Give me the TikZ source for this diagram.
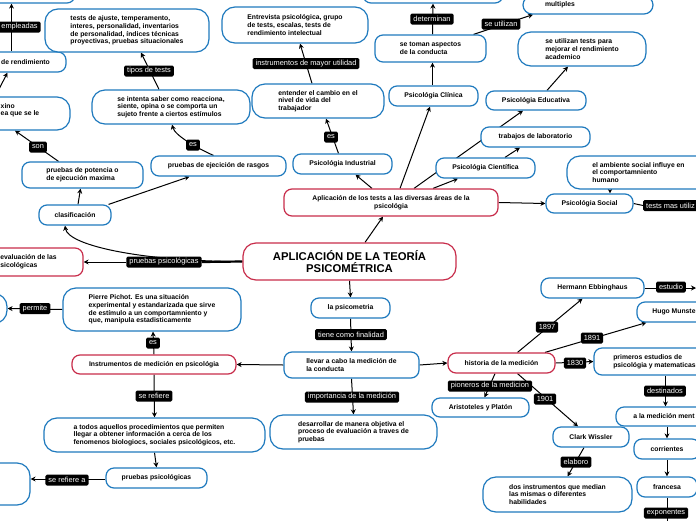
\documentclass[tikz,border=0pt]{standalone}
\usepackage{fontspec}
\setmainfont{Liberation Sans}
\usetikzlibrary{arrows.meta}
\definecolor{blueb}{RGB}{31,122,190}
\definecolor{redb}{RGB}{200,45,75}
\pgfdeclarelayer{bg}
\pgfsetlayers{bg,main}
\tikzset{
 bbox/.style={draw=blueb, line width=1.2pt, rounded corners=8pt, fill=white, align=left, inner sep=0pt, font=\fontsize{6.8}{7.7}\selectfont\bfseries, text=black},
 rbox/.style={bbox, draw=redb},
 tall/.style={rounded corners=13pt},
 sz/.style 2 args={minimum width=#1pt, minimum height=#2pt},
 lbl/.style={fill=black, text=white, font=\fontsize{7.4}{8}\selectfont, inner xsep=3pt, inner ysep=0pt, minimum height=11pt, rounded corners=1.5pt},
 arr/.style={line width=1pt, -{Stealth[length=5pt,width=5pt]}},
 ln/.style={line width=1pt},
}
\begin{document}
\begin{tikzpicture}[x=1pt,y=-1pt]
\useasboundingbox (0,0) rectangle (696,520);
\clip (0,0) rectangle (696,520);

% nodes
\node[bbox, sz={135}{23}] (n_tl) at (7.5,-8.5) {};
\node[bbox, sz={81}{20}] (n_rend) at (25.5,62) {de rendimiento};
\node[bbox, tall, sz={100}{33}] (n_max) at (20,113.5) {xino\\ea que se le\\\mbox{}};
\node[bbox, sz={121}{26}] (n_pot) at (82.5,175) {pruebas de potencia o\\de ejecución maxima};
\node[bbox, sz={72}{20}] (n_cla) at (75,215) {clasificación};
\node[bbox, sz={135}{20}] (n_eje) at (218.5,166) {pruebas de ejecición de rasgos};
\node[bbox, tall, sz={158}{34}] (n_sab) at (171,107) {se intenta saber como reacciona,\\siente, opina o se comporta un\\sujeto frente a ciertos estímulos};
\node[bbox, tall, sz={164}{43}] (n_tip) at (127,30.5) {tests de ajuste, temperamento,\\interes, personalidad, inventarios\\de personalidad, índices técnicas\\proyectivas, pruebas situacionales};
\node[bbox, tall, sz={146}{36}] (n_ent) at (295,25) {Entrevista psicológica, grupo\\de tests, escalas, tests de\\rendimiento intelectual};
\node[bbox, tall, sz={132}{34}] (n_cam) at (318,101) {entender el cambio en el\\nivel de vida del\\trabajador};
\node[bbox, sz={99}{20}] (n_ind) at (342.5,164) {Psicológia Industrial};
\node[bbox, sz={89}{20}] (n_cli) at (433.5,96) {Psicológia Clínica};
\node[bbox, sz={111}{27}] (n_tom) at (430.5,48.5) {se toman aspectos\\de la conducta};
\node[bbox, sz={140}{23}] (n_top) at (433,-8.5) {};
\node[bbox, rounded corners=9pt, sz={130}{18}, text width=86pt] (n_mul) at (588,5) {multiples};
\node[bbox, tall, sz={128}{34}] (n_acad) at (582,49) {se utilizan tests para\\mejorar el rendimiento\\academico};
\node[bbox, sz={100}{19}] (n_edu) at (536,100.5) {Psicológia Educativa};
\node[bbox, sz={109}{20}] (n_lab) at (535.5,137) {trabajos de laboratorio};
\node[bbox, sz={99}{20}] (n_cie) at (485.5,168) {Psicológia Científica};
\node[rbox, sz={214}{27}, align=center] (n_apl) at (391,202.5) {Aplicación de los tests a las diversas áreas de la\\psicológia};
\node[bbox, sz={87}{19}] (n_soc) at (589.5,203.5) {Psicológia Social};
\node[bbox, tall, sz={143}{33}] (n_amb) at (638.5,172.5) {el ambiente social influye en\\el comportamniento\\humano};
\node[rbox, tall, sz={213}{37}, align=center, font=\fontsize{11.3}{12}\selectfont\bfseries] (n_main) at (349.5,261.5) {APLICACIÓN DE LA TEORÍA\\PSICOMÉTRICA};
\node[rbox, sz={109}{28}] (n_eva) at (28.5,262) {evaluación de las\\sicológicas};
\node[bbox, tall, sz={178}{43}] (n_pie) at (152,309.5) {Pierre Pichot. Es una situación\\experimental y estandarizada que sirve\\de estímulo a un comportamniento y\\que, manipula estadisticamente};
\node[bbox, tall, sz={67}{30}] (n_pl) at (-26.5,308.5) {};
\node[rbox, sz={164}{19}] (n_ins) at (154,364.5) {Instrumentos de medición en psicológia};
\node[bbox, tall, sz={221}{34}] (n_tod) at (154.5,435) {a todos aquellos procedimientos que permiten\\llegar a obtener información a cerca de los\\fenomenos biologiocs, sociales psicológicos, etc.};
\node[bbox, sz={101}{20}] (n_pps) at (156.5,478) {pruebas psicológicas};
\node[bbox, tall, sz={90}{42}] (n_sra) at (-15,484) {};
\node[bbox, sz={79}{20}] (n_psi) at (350.5,308) {la psicometria};
\node[bbox, sz={135}{26}] (n_lle) at (351.5,365) {llevar a cabo la medición de\\la conducta};
\node[bbox, tall, sz={167}{34}] (n_des) at (353.5,432) {desarrollar de manera objetiva el\\proceso de evaluación a traves de\\pruebas};
\node[rbox, sz={107}{20}] (n_his) at (501.5,363) {historia de la medición};
\node[bbox, sz={121}{27}] (n_pri) at (654.5,361.5) {primeros estudios de\\psicológia y matematicas};
\node[bbox, sz={96}{19}] (n_men) at (664,416.5) {a la medición ment};
\node[bbox, sz={66}{20}] (n_cor) at (667,449) {corrientes};
\node[bbox, sz={60}{20}] (n_fra) at (667,487) {francesa};
\node[bbox, sz={97}{19}] (n_ari) at (480.5,407.5) {Aristoteles y Platón};
\node[bbox, sz={76}{20}] (n_cla2) at (591,437) {Clark Wissler};
\node[bbox, tall, sz={149}{35}] (n_dos) at (557.5,494.5) {dos instrumentos que median\\las mismas o diferentes\\habilidades};
\node[bbox, sz={103}{20}] (n_her) at (592.5,288) {Hermann Ebbinghaus};
\node[bbox, sz={74}{20}] (n_hug) at (674,312) {Hugo Munste};

% labels
\node[lbl] (l_emp) at (19.5,27) {empleadas};
\node[lbl] (l_son) at (38,147) {son};
\node[lbl] (l_tip) at (149,71) {tipos de tests};
\node[lbl] (l_es1) at (193,145) {es};
\node[lbl] (l_ins) at (306,63.5) {instrumentos de mayor utilidad};
\node[lbl] (l_es2) at (331,137) {es};
\node[lbl] (l_det) at (432,19) {determinan};
\node[lbl] (l_utl) at (501,24) {se utilizan};
\node[lbl] (l_pps) at (164,262) {pruebas psicológicas};
\node[lbl] (l_per) at (35,308.5) {permite};
\node[lbl] (l_es3) at (153,343) {es};
\node[lbl] (l_ser) at (154,396) {se refiere};
\node[lbl] (l_sra) at (67,480) {se refiere a};
\node[lbl] (l_tcf) at (351,334.5) {tiene como finalidad};
\node[lbl] (l_imp) at (352,397) {importancia de la medición};
\node[lbl] (l_pio) at (490,386) {pioneros de la medicion};
\node[lbl] (l_1901) at (545,399) {1901};
\node[lbl] (l_1830) at (575,363) {1830};
\node[lbl] (l_dst) at (665,391) {destinados};
\node[lbl] (l_exp) at (666,513) {exponentes};
\node[lbl] (l_ela) at (576,462) {elaboro};
\node[lbl] (l_1897) at (547,327) {1897};
\node[lbl] (l_1891) at (592,338) {1891};
\node[lbl] (l_est) at (671,287) {estudio};
\node[lbl, anchor=west] (l_tmu) at (643,205.5) {tests mas utiliz};

\coordinate (c_a) at (-4,95);
\coordinate (c_exp) at (667,530);
\coordinate (c_est) at (696,288);

\begin{pgfonlayer}{bg}
\clip (0,0) rectangle (696,520);
\fill[white] (0,0) rectangle (696,520);
\draw[arr] ([xshift=-14pt]n_rend.north) -- ([xshift=4pt]n_tl.south);
\draw[arr] (c_a) -- ([xshift=-18pt]n_rend.south);
\draw[arr] ([xshift=-24pt]n_pot.north) -- ([xshift=-5pt]n_max.south);
\draw[arr] ([xshift=3pt]n_cla.north) -- ([xshift=-2pt]n_pot.south);
\draw[arr] ([xshift=-3pt]n_cla.north east) -- ([xshift=-29pt]n_eje.south);
\draw[arr] ([xshift=-5pt]n_eje.north) .. controls +(-16,-7) and +(3,11) .. ([xshift=1pt]n_sab.south);
\draw[arr] ([xshift=-12pt]n_sab.north) -- ([xshift=14pt]n_tip.south);
\draw[arr] ([xshift=-6pt]n_cam.north) -- ([xshift=5pt]n_ent.south);
\draw[arr] ([xshift=-4pt]n_ind.north) -- ([xshift=8pt]n_cam.south);
\draw[arr] ([xshift=-1pt]n_cli.north) -- ([xshift=2pt]n_tom.south);
\draw[arr] ([xshift=2pt]n_tom.north) -- (n_top.south);
\draw[arr] ([xshift=-13pt]n_tom.north east) -- ([xshift=-55pt]n_mul.south);
\draw[arr] ([xshift=9pt]n_apl.north) -- ([xshift=-3.5pt]n_cli.south);
\draw[arr] ([xshift=-19pt]n_apl.north) -- ([xshift=13pt]n_ind.south);
\draw[arr] ([xshift=23pt]n_apl.north) -- ([xshift=-13pt]n_edu.south);
\draw[arr] ([xshift=42pt]n_apl.north) -- ([xshift=-27.5pt]n_cie.south);
\draw[arr] ([xshift=19.5pt]n_cie.north) -- ([xshift=-15.5pt]n_lab.south);
\draw[arr] ([xshift=11pt]n_edu.north) -- ([xshift=-14pt]n_acad.south);
\draw[arr] (n_apl.east) -- (n_soc.west);
\draw[arr] ([xshift=-28.5pt]n_amb.south) -- ([xshift=20.5pt]n_soc.north);
\draw[ln] (n_soc.east) -- (l_tmu.west);
\draw[arr] ([xshift=15.5pt]n_main.north) -- ([xshift=-8pt]n_apl.south);
\draw[line width=2.2pt] (n_main.west) -- (l_pps.east);
\draw[arr] (l_pps.west) -- (n_eva.east);
\draw[arr] (n_main.west) .. controls +(-100,0) and +(3,20) .. ([xshift=-10pt]n_cla.south);
\draw[arr] (n_main.south) -- (n_psi.north);
\draw[arr] (n_psi.south) -- (n_lle.north);
\draw[arr] (n_lle.west) -- (n_ins.east);
\draw[arr] (n_lle.east) -- (n_his.west);
\draw[arr] (n_lle.south) -- (n_des.north);
\draw[arr] (n_ins.north) -- ([xshift=1pt]n_pie.south);
\draw[arr] (n_pie.west) -- (n_pl.east);
\draw[arr] (n_ins.south) -- (n_tod.north);
\draw[arr] (n_tod.south) -- (n_pps.north);
\draw[arr] ([yshift=-1pt]n_pps.west) -- ([yshift=-1pt]n_pps.west -| n_sra.east);
\draw[arr] (n_his.east) -- (n_pri.west);
\draw[arr] ([xshift=11pt]n_pri.south) -- ([xshift=1.5pt]n_men.north);
\draw[arr] ([xshift=3pt]n_men.south) -- (n_cor.north);
\draw[arr] (n_cor.south) -- (n_fra.north);
\draw[ln] (n_fra.south) -- (c_exp);
\draw[arr] ([xshift=-6.5pt]n_his.south) -- ([xshift=4pt]n_ari.north);
\draw[arr] ([xshift=16pt]n_his.south) -- ([xshift=-13pt]n_cla2.north);
\draw[arr] ([xshift=-7pt]n_cla2.south) -- ([xshift=10pt]n_dos.north);
\draw[arr] ([xshift=16pt]n_his.north) -- ([xshift=-10pt]n_her.south);
\draw[arr] ([xshift=43.5pt]n_his.north) -- ([xshift=10pt]n_hug.south west);
\draw[arr] (n_her.east) -- (c_est);
\end{pgfonlayer}
\end{tikzpicture}
\end{document}
